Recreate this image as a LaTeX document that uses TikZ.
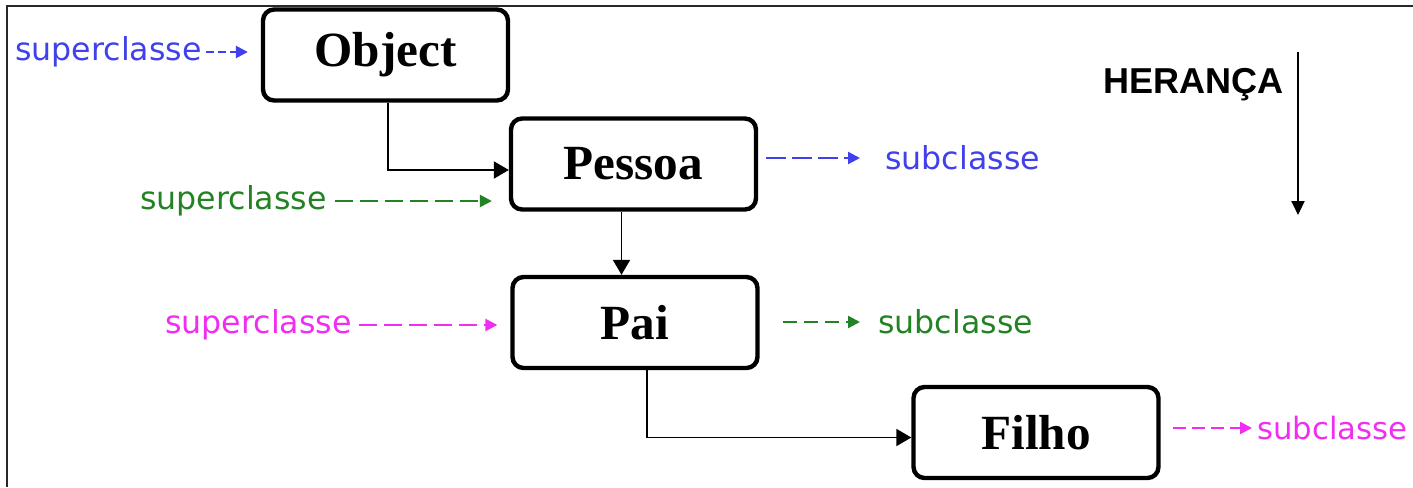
\documentclass[tikz,border=0pt]{standalone}
\usepackage{fontspec}
\setmainfont{Liberation Serif}
\newfontfamily\labelfont{DejaVu Sans}
\newfontfamily\headfont{Liberation Sans}
\usetikzlibrary{arrows.meta}
\definecolor{cblue}{RGB}{65,65,235}
\definecolor{cgreen}{RGB}{35,130,35}
\definecolor{cmag}{RGB}{240,45,240}
\definecolor{frame}{RGB}{40,40,40}
\tikzset{
  box/.style={draw, line width=2.5pt, rounded corners=0.22cm, inner sep=0pt,
    minimum width=4.9cm, minimum height=1.82cm,
    font=\fontsize{28}{30}\selectfont\bfseries},
  lbl/.style={inner sep=0pt, anchor=west, font=\labelfont\fontsize{18}{20}\selectfont},
  conn/.style={line width=1.1pt, -{Triangle[length=0.3cm, width=0.34cm]}},
  dashedarrow/.style={line width=1.4pt, dash pattern=on 0.36cm off 0.14cm,
    -{Triangle[length=0.24cm, width=0.24cm]}},
}
\begin{document}
\begin{tikzpicture}[x=0.02cm, y=-0.02cm]
\useasboundingbox (0,0) rectangle (1413,487);
% frame
\draw[frame, line width=1.6pt] (7,487) -- (7,6) -- (1413,6);

% boxes
\node[box] (obj) at (385.5,55) {Object};
\node[box] (pes) at (633.5,164) {Pessoa};
\node[box] (pai) at (635,322.5) {Pai};
\node[box] (fil) at (1036,432.5) {Filho};

% labels
\node[lbl, text=cblue] (sup1) at (15,52) {superclasse};
\node[lbl, text=cblue] (sub1) at (885,158) {subclasse};
\node[lbl, text=cgreen] (sup2) at (140,201) {superclasse};
\node[lbl, text=cgreen] (sub2) at (878,322) {subclasse};
\node[lbl, text=cmag] (sup3) at (165,325) {superclasse};
\node[lbl, text=cmag, font=\labelfont\fontsize{17.5}{20}\selectfont] (sub3) at (1257,428) {subclasse};
\node[inner sep=0pt, anchor=base west, font=\headfont\fontsize{20.5}{22}\selectfont\bfseries] (her) at (1103,93) {HERANÇA};
\coordinate (htop) at (1298,52);
\coordinate (hbot) at (1298,215);

% solid connectors
\draw[conn] ([xshift=0.05cm]obj.south) |- ([yshift=-0.12cm]pes.west);
\draw[conn] ([xshift=-0.24cm]pes.south) -- ([xshift=-0.24cm]pes.south |- pai.north);
\draw[conn] ([xshift=0.24cm]pai.south) |- ([yshift=-0.1cm]fil.west);
\draw[line width=1.2pt, -{Triangle[length=0.28cm, width=0.26cm]}] (htop) -- (hbot);

% dashed arrows
\draw[dashedarrow, cblue, dash pattern=on 0.16cm off 0.08cm, shorten <=0.08cm, shorten >=0.26cm]
  (sup1.east) -- (sup1.east -| obj.west);
\draw[dashedarrow, cblue, dash pattern=on 0.4cm off 0.12cm, shorten <=0.16cm, shorten >=0.5cm]
  (pes.east |- sub1.west) -- (sub1.west);
\draw[dashedarrow, cgreen, shorten <=0.16cm, shorten >=0.34cm]
  (sup2.east) -- (sup2.east -| pes.west);
\draw[dashedarrow, cmag, shorten <=0.14cm, shorten >=0.26cm]
  (sup3.east) -- (sup3.east -| pai.west);
\draw[dashedarrow, cgreen, dash pattern=on 0.28cm off 0.14cm, shorten <=0.46cm, shorten >=0.36cm]
  (pai.east |- sub2.west) -- (sub2.west);
\draw[dashedarrow, cmag, dash pattern=on 0.26cm off 0.12cm, shorten <=0.24cm, shorten >=0.1cm]
  (fil.east |- sub3.west) -- (sub3.west);
\end{tikzpicture}
\end{document}
